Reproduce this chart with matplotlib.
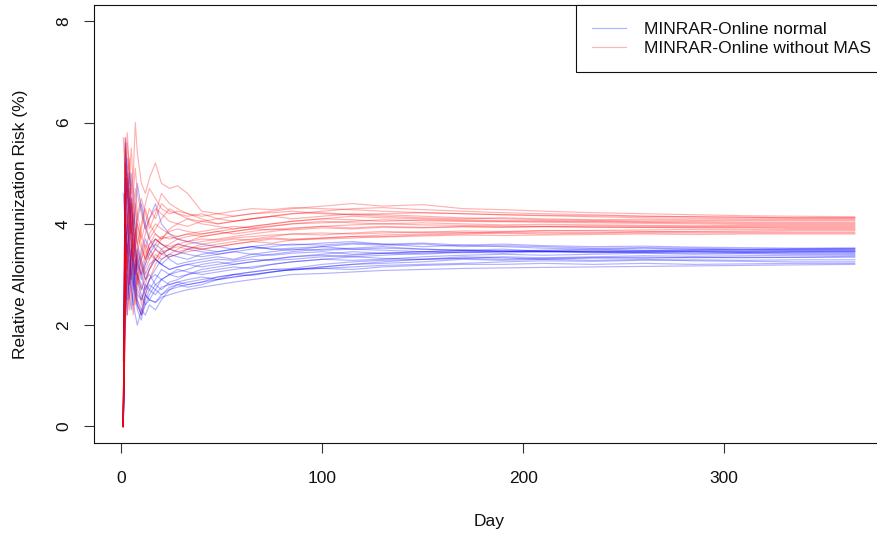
import matplotlib
matplotlib.use("Agg")
import matplotlib.pyplot as plt

plt.rcParams['font.family'] = ['Liberation Sans', 'DejaVu Sans']

days = [1, 2, 3, 4, 5, 6, 7, 8, 10, 12, 14, 17, 20, 24, 28, 33, 40, 48, 56, 65,
        75, 85, 100, 115, 130, 150, 170, 190, 210, 235, 260, 285, 310, 335, 365]

normal_runs = [
    [0, 4.6, 3.2, 2.8, 3.5, 3.0, 2.6, 2.4, 2.2, 2.6, 2.5, 2.45, 2.55, 2.6, 2.65, 2.7, 2.75, 2.8, 2.85, 2.9, 2.95, 3.0, 3.02, 3.05, 3.08, 3.1, 3.12, 3.13, 3.14, 3.15, 3.16, 3.17, 3.18, 3.19, 3.2],
    [0, 2.5, 3.8, 4.5, 3.9, 3.3, 3.0, 2.7, 2.5, 2.8, 2.7, 2.6, 2.75, 2.8, 2.85, 2.9, 2.95, 2.9, 2.95, 3.0, 3.05, 3.1, 3.12, 3.1, 3.15, 3.18, 3.2, 3.2, 3.22, 3.2, 3.22, 3.2, 3.21, 3.22, 3.22],
    [0, 5.7, 4.4, 3.6, 3.1, 2.8, 2.6, 2.3, 2.1, 2.5, 2.7, 2.9, 3.1, 3.0, 2.95, 3.0, 3.05, 3.1, 3.15, 3.12, 3.2, 3.25, 3.3, 3.35, 3.32, 3.3, 3.35, 3.33, 3.3, 3.28, 3.3, 3.27, 3.26, 3.25, 3.25],
    [1.3, 3.5, 4.8, 4.2, 5.0, 4.4, 3.9, 3.6, 3.3, 3.0, 3.2, 3.3, 3.2, 3.1, 3.15, 3.2, 3.25, 3.3, 3.28, 3.35, 3.4, 3.45, 3.5, 3.52, 3.55, 3.5, 3.48, 3.5, 3.46, 3.45, 3.44, 3.45, 3.44, 3.45, 3.46],
    [0, 3.0, 2.2, 3.3, 2.8, 2.4, 2.9, 3.4, 3.0, 2.7, 2.9, 3.1, 3.3, 3.4, 3.35, 3.3, 3.4, 3.45, 3.5, 3.55, 3.5, 3.48, 3.55, 3.6, 3.58, 3.6, 3.55, 3.57, 3.55, 3.52, 3.53, 3.52, 3.5, 3.51, 3.52],
    [0, 4.7, 5.3, 4.6, 3.8, 4.2, 3.6, 3.2, 2.9, 3.2, 3.4, 3.6, 3.5, 3.3, 3.2, 3.25, 3.3, 3.35, 3.3, 3.4, 3.38, 3.42, 3.45, 3.4, 3.42, 3.45, 3.48, 3.46, 3.48, 3.5, 3.48, 3.49, 3.5, 3.49, 3.5],
    [0, 2.0, 3.0, 2.5, 3.6, 3.2, 2.8, 2.5, 2.3, 2.2, 2.4, 2.3, 2.5, 2.7, 2.8, 2.75, 2.8, 2.9, 3.0, 3.05, 3.1, 3.08, 3.15, 3.2, 3.22, 3.25, 3.3, 3.28, 3.3, 3.33, 3.32, 3.34, 3.33, 3.34, 3.34],
    [0, 4.0, 3.4, 3.9, 4.5, 3.8, 3.4, 3.0, 2.7, 2.9, 3.1, 3.3, 3.2, 3.35, 3.4, 3.5, 3.45, 3.4, 3.45, 3.5, 3.55, 3.6, 3.58, 3.62, 3.6, 3.55, 3.58, 3.55, 3.52, 3.5, 3.52, 3.5, 3.49, 3.5, 3.5],
    [0, 5.6, 5.0, 4.3, 3.7, 3.3, 3.0, 3.5, 3.2, 2.9, 3.0, 2.8, 2.9, 3.0, 3.1, 3.05, 3.0, 3.05, 3.1, 3.15, 3.2, 3.25, 3.3, 3.28, 3.3, 3.35, 3.38, 3.4, 3.38, 3.4, 3.42, 3.4, 3.41, 3.4, 3.4],
    [0, 3.3, 4.0, 3.5, 3.0, 2.7, 3.2, 2.9, 2.6, 2.4, 2.6, 2.8, 2.7, 2.85, 2.9, 3.0, 3.1, 3.15, 3.2, 3.25, 3.3, 3.35, 3.4, 3.45, 3.42, 3.45, 3.43, 3.45, 3.47, 3.46, 3.47, 3.48, 3.47, 3.48, 3.48],
    [4.6, 4.0, 3.6, 3.3, 2.9, 3.3, 3.7, 4.1, 4.4, 4.0, 3.7, 3.5, 3.4, 3.5, 3.6, 3.55, 3.5, 3.45, 3.5, 3.55, 3.6, 3.58, 3.62, 3.65, 3.6, 3.62, 3.58, 3.6, 3.57, 3.55, 3.56, 3.54, 3.53, 3.52, 3.52],
    [0, 2.8, 3.6, 3.1, 2.7, 2.4, 2.2, 2.0, 2.3, 2.6, 2.8, 2.7, 2.6, 2.75, 2.8, 2.85, 2.9, 2.95, 3.0, 2.98, 3.05, 3.1, 3.15, 3.2, 3.25, 3.3, 3.32, 3.35, 3.33, 3.35, 3.37, 3.36, 3.37, 3.38, 3.38],
    [0, 5.2, 4.5, 5.0, 4.2, 3.6, 3.3, 3.1, 3.4, 3.7, 3.5, 3.3, 3.2, 3.1, 3.15, 3.2, 3.15, 3.2, 3.25, 3.3, 3.28, 3.3, 3.35, 3.38, 3.42, 3.4, 3.44, 3.42, 3.45, 3.43, 3.44, 3.45, 3.44, 3.44, 3.44],
    [0, 3.8, 3.0, 2.6, 2.3, 2.8, 3.3, 3.0, 2.8, 2.6, 2.5, 2.7, 2.9, 3.0, 3.05, 3.1, 3.2, 3.25, 3.2, 3.25, 3.3, 3.35, 3.38, 3.35, 3.38, 3.42, 3.45, 3.47, 3.45, 3.47, 3.46, 3.47, 3.46, 3.47, 3.47],
    [0, 4.3, 4.9, 4.0, 3.5, 3.1, 2.8, 2.6, 2.5, 2.7, 2.9, 3.0, 2.9, 2.8, 2.85, 2.8, 2.85, 2.9, 2.95, 3.0, 3.05, 3.1, 3.12, 3.15, 3.18, 3.2, 3.22, 3.25, 3.27, 3.26, 3.28, 3.29, 3.28, 3.29, 3.29],
    [0, 3.1, 2.5, 2.9, 3.4, 3.9, 3.5, 3.2, 3.0, 3.3, 3.5, 3.7, 3.6, 3.5, 3.45, 3.4, 3.35, 3.4, 3.45, 3.4, 3.45, 3.5, 3.48, 3.5, 3.52, 3.5, 3.48, 3.46, 3.45, 3.44, 3.43, 3.42, 3.42, 3.42, 3.42],
    [0, 4.9, 4.1, 3.5, 3.2, 2.9, 2.7, 2.4, 2.2, 2.4, 2.5, 2.45, 2.6, 2.7, 2.75, 2.8, 2.85, 2.95, 3.0, 3.05, 3.1, 3.12, 3.2, 3.25, 3.28, 3.3, 3.32, 3.3, 3.32, 3.33, 3.34, 3.33, 3.34, 3.34, 3.36],
    [0, 2.4, 3.1, 3.8, 4.4, 3.9, 4.3, 4.8, 4.3, 3.9, 4.1, 4.4, 4.0, 3.8, 3.7, 3.65, 3.6, 3.55, 3.5, 3.55, 3.5, 3.52, 3.55, 3.5, 3.48, 3.45, 3.47, 3.45, 3.46, 3.45, 3.46, 3.45, 3.44, 3.45, 3.45],
]

without_mas_runs = [
    [0, 5.7, 4.8, 5.3, 4.6, 5.0, 6.0, 5.4, 4.8, 4.6, 4.9, 5.2, 4.8, 4.7, 4.75, 4.6, 4.25, 4.2, 4.15, 4.2, 4.25, 4.3, 4.35, 4.4, 4.35, 4.38, 4.3, 4.28, 4.25, 4.22, 4.2, 4.18, 4.16, 4.15, 4.14],
    [0, 3.2, 4.2, 3.6, 3.1, 2.7, 2.4, 2.9, 3.3, 3.6, 3.4, 3.3, 3.45, 3.5, 3.55, 3.5, 3.6, 3.65, 3.7, 3.68, 3.72, 3.7, 3.72, 3.75, 3.74, 3.76, 3.78, 3.77, 3.78, 3.79, 3.8, 3.79, 3.8, 3.8, 3.8],
    [0, 4.8, 5.6, 5.0, 4.4, 3.9, 3.5, 3.2, 3.5, 3.8, 4.1, 4.3, 4.2, 4.05, 4.0, 4.1, 4.05, 4.0, 4.05, 4.1, 4.15, 4.2, 4.25, 4.3, 4.32, 4.28, 4.25, 4.22, 4.2, 4.18, 4.15, 4.14, 4.13, 4.12, 4.12],
    [0, 2.0, 3.0, 3.8, 4.5, 4.0, 3.6, 3.3, 3.0, 3.2, 3.5, 3.7, 3.6, 3.5, 3.45, 3.5, 3.55, 3.6, 3.65, 3.7, 3.75, 3.8, 3.78, 3.82, 3.85, 3.83, 3.86, 3.85, 3.87, 3.86, 3.85, 3.84, 3.84, 3.84, 3.84],
    [5.7, 4.9, 4.3, 3.8, 3.4, 3.9, 4.4, 4.0, 3.7, 4.0, 4.3, 4.1, 4.4, 4.25, 4.2, 4.15, 4.2, 4.1, 4.05, 4.1, 4.15, 4.2, 4.22, 4.18, 4.15, 4.12, 4.1, 4.12, 4.1, 4.08, 4.09, 4.08, 4.08, 4.08, 4.08],
    [0, 3.6, 2.8, 2.3, 2.9, 3.4, 3.9, 3.5, 3.2, 2.9, 3.1, 3.3, 3.5, 3.6, 3.7, 3.65, 3.75, 3.8, 3.85, 3.9, 3.88, 3.92, 3.95, 3.98, 4.0, 4.02, 4.0, 3.98, 3.99, 3.98, 3.97, 3.96, 3.97, 3.97, 3.97],
    [0, 5.2, 4.4, 4.9, 5.5, 4.7, 4.2, 3.8, 3.5, 3.3, 3.6, 3.8, 3.7, 3.9, 4.0, 3.95, 4.05, 4.1, 4.15, 4.2, 4.22, 4.25, 4.2, 4.18, 4.2, 4.22, 4.2, 4.18, 4.16, 4.14, 4.12, 4.11, 4.1, 4.1, 4.1],
    [0, 2.6, 3.5, 3.0, 2.6, 2.2, 2.6, 3.0, 2.7, 3.1, 3.3, 3.5, 3.4, 3.5, 3.6, 3.55, 3.5, 3.55, 3.6, 3.65, 3.62, 3.68, 3.7, 3.72, 3.75, 3.78, 3.8, 3.82, 3.8, 3.82, 3.84, 3.85, 3.86, 3.87, 3.87],
    [0, 4.4, 5.0, 4.5, 4.0, 4.6, 5.1, 4.6, 4.2, 3.9, 3.7, 3.9, 4.1, 4.3, 4.2, 4.1, 4.0, 3.95, 3.9, 3.95, 4.0, 4.05, 4.1, 4.08, 4.05, 4.08, 4.06, 4.05, 4.06, 4.05, 4.04, 4.04, 4.03, 4.03, 4.03],
    [0, 3.9, 3.3, 2.8, 3.3, 3.7, 3.3, 3.0, 2.4, 2.8, 3.1, 3.4, 3.3, 3.4, 3.5, 3.6, 3.65, 3.7, 3.75, 3.8, 3.85, 3.9, 3.95, 3.92, 3.95, 3.93, 3.95, 3.94, 3.95, 3.96, 3.95, 3.95, 3.95, 3.95, 3.95],
    [0, 5.5, 4.7, 4.1, 3.7, 3.3, 3.0, 3.4, 3.9, 4.3, 4.0, 3.8, 3.7, 3.85, 3.9, 3.85, 3.8, 3.85, 3.9, 3.95, 4.0, 4.05, 4.1, 4.15, 4.12, 4.1, 4.08, 4.06, 4.05, 4.04, 4.03, 4.02, 4.01, 4.01, 4.01],
    [0, 3.0, 2.2, 2.8, 3.5, 3.1, 2.8, 2.5, 2.2, 2.6, 2.9, 3.2, 3.4, 3.35, 3.4, 3.45, 3.5, 3.55, 3.6, 3.65, 3.7, 3.68, 3.72, 3.75, 3.78, 3.8, 3.82, 3.84, 3.86, 3.87, 3.88, 3.89, 3.89, 3.89, 3.89],
    [0, 4.6, 3.9, 4.4, 3.8, 4.3, 4.7, 4.2, 3.8, 3.5, 3.8, 4.0, 3.9, 3.8, 3.75, 3.8, 3.85, 3.9, 3.95, 3.92, 3.96, 4.0, 4.02, 4.05, 4.08, 4.06, 4.05, 4.04, 4.03, 4.02, 4.01, 4.0, 3.99, 3.99, 3.99],
    [0, 5.3, 5.8, 5.1, 4.6, 4.2, 3.9, 3.6, 4.0, 4.4, 4.7, 4.5, 4.3, 4.2, 4.25, 4.2, 4.15, 4.2, 4.25, 4.3, 4.28, 4.32, 4.3, 4.28, 4.25, 4.22, 4.2, 4.18, 4.17, 4.16, 4.15, 4.14, 4.13, 4.12, 4.12],
    [0, 3.4, 4.0, 4.7, 4.1, 3.6, 3.2, 2.9, 3.3, 3.5, 3.3, 3.5, 3.7, 3.75, 3.7, 3.75, 3.8, 3.85, 3.8, 3.85, 3.9, 3.88, 3.92, 3.9, 3.93, 3.92, 3.94, 3.93, 3.94, 3.93, 3.93, 3.93, 3.93, 3.93, 3.93],
    [0, 2.4, 3.6, 4.2, 3.7, 3.3, 3.6, 4.0, 3.6, 3.3, 3.5, 3.6, 3.75, 3.7, 3.75, 3.8, 3.75, 3.8, 3.85, 3.9, 3.95, 4.0, 4.05, 4.02, 4.0, 3.98, 3.97, 3.96, 3.95, 3.94, 3.93, 3.92, 3.92, 3.91, 3.91],
    [0, 4.2, 4.9, 4.3, 3.9, 3.5, 3.8, 4.2, 4.5, 4.2, 3.9, 4.2, 4.6, 4.4, 4.3, 4.2, 4.1, 4.0, 4.05, 4.1, 4.15, 4.1, 4.15, 4.2, 4.18, 4.15, 4.12, 4.1, 4.08, 4.07, 4.06, 4.06, 4.06, 4.06, 4.06],
    [0, 3.7, 3.1, 3.5, 4.0, 3.5, 3.1, 2.8, 3.1, 3.4, 3.6, 3.7, 3.6, 3.55, 3.6, 3.65, 3.7, 3.68, 3.72, 3.75, 3.78, 3.8, 3.82, 3.8, 3.82, 3.84, 3.83, 3.82, 3.83, 3.82, 3.82, 3.82, 3.82, 3.82, 3.82],
]

series_labels = ["MINRAR-Online normal", "MINRAR-Online without MAS"]
x_ticks = [0, 100, 200, 300]
y_ticks = [0, 2, 4, 6, 8]

W, H = 878, 534
fig = plt.figure(figsize=(W / 100, H / 100), dpi=100)
left, right, top, bottom = 94, 884, 5, 442.7
ax = fig.add_axes([left / W, (H - bottom) / H, (right - left) / W, (bottom - top) / H])

blue = (0, 0, 1, 0.3)
red = (1, 0, 0, 0.3)
lw = 0.85

for i, run in enumerate(normal_runs):
    ax.plot(days, run, color=blue, lw=lw, label=series_labels[0] if i == 0 else None)
for i, run in enumerate(without_mas_runs):
    ax.plot(days, run, color=red, lw=lw, label=series_labels[1] if i == 0 else None)

ax.set_xlim(1 - 0.04 * 364, 365 + 0.04 * 364)
ax.set_ylim(-0.32, 8.32)
ax.set_xticks(x_ticks)
ax.set_yticks(y_ticks)
ax.set_yticklabels([str(v) for v in y_ticks], rotation=90, va='center')

fs = 12.5
ax.tick_params(axis='both', direction='out', length=7.5, width=0.8, color='#333333',
               labelsize=fs, labelcolor='#111111')
ax.tick_params(axis='x', pad=13)
ax.tick_params(axis='y', pad=9)
for s in ax.spines.values():
    s.set_linewidth(0.8)
    s.set_color('#111111')

ax.set_xlabel("Day", fontsize=fs, color='#111111', labelpad=20)
ax.set_ylabel("Relative Alloimmunization Risk (%)", fontsize=fs, color='#111111', labelpad=20)

leg = ax.legend(loc='upper right', bbox_to_anchor=(1 + 3.0 / (right - left), 1),
                borderaxespad=0, fontsize=fs,
                fancybox=False, framealpha=1, edgecolor='#111111', handlelength=1.95,
                handletextpad=1.0, labelspacing=0.22, borderpad=0.95)
leg.get_frame().set_linewidth(0.8)
for t in leg.get_texts():
    t.set_color('#111111')

fig.savefig("out.png", dpi=100)
